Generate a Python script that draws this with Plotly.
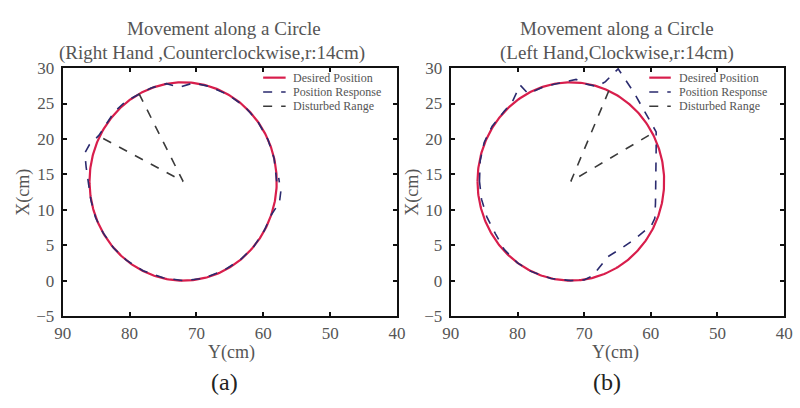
import numpy as np
import plotly.graph_objects as go

# Desired circular trajectory: centre (Y, X) and radius in cm
center_y, center_x = 72.0, 14.0
radius = 14.0

# (a) Right hand, counterclockwise: measured position response (Y, X) in cm
resp_a_y = [58.0, 58.4, 59.3, 60.8, 62.8, 65.2, 68.0, 70.5, 72.5, 74.5, 76.8, 78.6,
            80.6, 82.3, 83.6, 84.6, 86.0, 86.7, 86.5, 86.1, 85.8, 85.1, 84.0, 82.4,
            80.5, 78.0, 75.0, 72.0, 69.0, 66.0, 63.5, 61.5, 59.9, 58.8, 57.6, 57.4, 57.7]
resp_a_x = [14.0, 17.3, 19.9, 22.4, 24.6, 26.2, 27.4, 27.9, 27.3, 27.8, 27.2, 26.3,
            25.3, 23.8, 22.0, 20.5, 19.2, 18.0, 16.0, 13.5, 11.4, 8.9, 6.8, 4.6,
            2.9, 1.4, 0.4, 0.0, 0.3, 1.4, 2.9, 4.7, 7.0, 9.3, 11.0, 12.5, 14.5]

# (a) Disturbed range: edge - centre - edge
dist_a_y = [78.6, 72.0, 84.4]
dist_a_x = [26.4, 14.0, 20.3]

# (b) Left hand, clockwise: measured position response (Y, X) in cm
resp_b_y = [85.7, 85.6, 85.0, 83.8, 82.0, 80.8, 79.6, 78.4, 76.0, 73.5, 71.2, 70.0,
            68.0, 66.8, 64.9, 62.5, 60.5, 59.2, 59.2, 59.2, 59.3, 59.4, 59.9, 62.5,
            64.5, 66.4, 68.7, 70.0, 72.0, 75.0, 78.0, 80.0, 82.0, 83.3, 84.6, 85.4, 85.7]
resp_b_x = [14.0, 16.9, 19.5, 21.8, 23.9, 25.2, 27.6, 26.4, 27.4, 27.9, 28.4, 27.8,
            27.4, 28.1, 29.9, 26.5, 23.2, 21.0, 18.6, 14.0, 11.0, 8.8, 7.8, 5.8,
            4.5, 3.4, 0.7, 0.1, 0.0, 0.3, 1.3, 2.5, 4.4, 6.6, 9.0, 11.5, 14.0]

# (b) Disturbed range: edge - centre - edge
dist_b_y = [66.3, 72.0, 60.3]
dist_b_x = [26.8, 14.0, 20.5]

legend_labels = ["Desired Position", "Position Response", "Disturbed Range"]
x_ticks = [90, 80, 70, 60, 50, 40]
y_ticks = [-5, 0, 5, 10, 15, 20, 25, 30]

theta = np.linspace(0, 2 * np.pi, 361)
circ_y = center_y + radius * np.cos(theta)
circ_x = center_x + radius * np.sin(theta)

RED = "#d81e4c"
NAVY = "#2a2a6e"
DARK = "#3a3a3a"
TEXT = "#555555"
SERIF = "Liberation Serif, Times New Roman, serif"

styles = [
    dict(color=RED, width=2.2),
    dict(color=NAVY, width=1.6, dash="dash"),
    dict(color=DARK, width=1.6, dash="dash"),
]

fig = go.Figure()

panels = [
    ("x", "y", resp_a_y, resp_a_x, dist_a_y, dist_a_x),
    ("x2", "y2", resp_b_y, resp_b_x, dist_b_y, dist_b_x),
]
for xa, ya, ry, rx, dy, dx in panels:
    fig.add_trace(go.Scatter(x=circ_y, y=circ_x, mode="lines", line=styles[0],
                             name=legend_labels[0], showlegend=False, xaxis=xa, yaxis=ya))
    fig.add_trace(go.Scatter(x=ry, y=rx, mode="lines", line=styles[1],
                             name=legend_labels[1], showlegend=False, xaxis=xa, yaxis=ya))
    fig.add_trace(go.Scatter(x=dy, y=dx, mode="lines", line=styles[2],
                             name=legend_labels[2], showlegend=False, xaxis=xa, yaxis=ya))

W, H = 800, 408
x_dom_a = [55 / W, 397 / W]
x_dom_b = [452 / W, 793 / W]
y_dom = [(H - 322) / H, (H - 62) / H]

axis_common = dict(
    showline=True, linecolor="#111111", linewidth=2.2, mirror="ticks",
    ticks="inside", ticklen=4, tickwidth=1.5, tickcolor="#111111",
    showgrid=False, zeroline=False,
    tickfont=dict(family=SERIF, size=17, color=TEXT),
)
fig.update_layout(
    width=W, height=H,
    margin=dict(l=0, r=0, t=0, b=0),
    paper_bgcolor="white", plot_bgcolor="white",
    showlegend=False,
    xaxis=dict(domain=x_dom_a, range=[90, 40], tickvals=x_ticks, anchor="y", **axis_common),
    yaxis=dict(domain=y_dom, range=[-5, 30], tickvals=y_ticks, anchor="x",
               ticklabelstandoff=3, **axis_common),
    xaxis2=dict(domain=x_dom_b, range=[90, 40], tickvals=x_ticks, anchor="y2", **axis_common),
    yaxis2=dict(domain=y_dom, range=[-5, 30], tickvals=y_ticks, anchor="x2",
                ticklabelstandoff=3, **axis_common),
)

def px(xp):
    return xp / W

def py(yp):
    return 1 - yp / H

ann = []
titles = [
    (220, "Movement along a Circle", "(Right Hand ,Counterclockwise,r:14cm)", 208),
    (622, "Movement along a Circle", "(Left Hand,Clockwise,r:14cm)", 622),
]
for cx1, l1, l2, cx2 in titles:
    ann.append(dict(x=px(cx1), y=py(20), text=l1, showarrow=False, xref="paper", yref="paper",
                    xanchor="center", yanchor="middle",
                    font=dict(family=SERIF, size=19, color=TEXT)))
    ann.append(dict(x=px(cx2), y=py(46), text=l2, showarrow=False, xref="paper", yref="paper",
                    xanchor="center", yanchor="middle",
                    font=dict(family=SERIF, size=19, color=TEXT)))

for xc in (14, 412):
    ann.append(dict(x=px(xc), y=py(192), text="X(cm)", textangle=-90, showarrow=False,
                    xref="paper", yref="paper", xanchor="center", yanchor="middle",
                    font=dict(family=SERIF, size=18, color=TEXT)))
for xc, lab in ((228, "(a)"), (620, "(b)")):
    ann.append(dict(x=px(xc), y=py(360), text="Y(cm)", showarrow=False,
                    xref="paper", yref="paper", xanchor="center", yanchor="middle",
                    font=dict(family=SERIF, size=18, color=TEXT)))
    ann.append(dict(x=px(xc - 8), y=py(391), text=lab, showarrow=False,
                    xref="paper", yref="paper", xanchor="center", yanchor="middle",
                    font=dict(family=SERIF, size=24, color="#222222")))

# Per-panel legends: sample line + label for each series
shapes = []
for lx0, lx1, tx in ((260, 283, 288), (655, 677, 683)):
    for i, (lab, st) in enumerate(zip(legend_labels, styles)):
        yy = 72 + i * 15
        shapes.append(dict(type="line", xref="paper", yref="paper",
                           x0=px(lx0), x1=px(lx1), y0=py(yy), y1=py(yy),
                           line=dict(color=st["color"], width=st["width"],
                                     dash=st.get("dash", "solid"))))
        ann.append(dict(x=px(tx), y=py(yy), text=lab, showarrow=False,
                        xref="paper", yref="paper", xanchor="left", yanchor="middle",
                        font=dict(family=SERIF, size=12, color=TEXT)))

fig.update_layout(annotations=ann, shapes=shapes)
fig.write_html("out.html")
